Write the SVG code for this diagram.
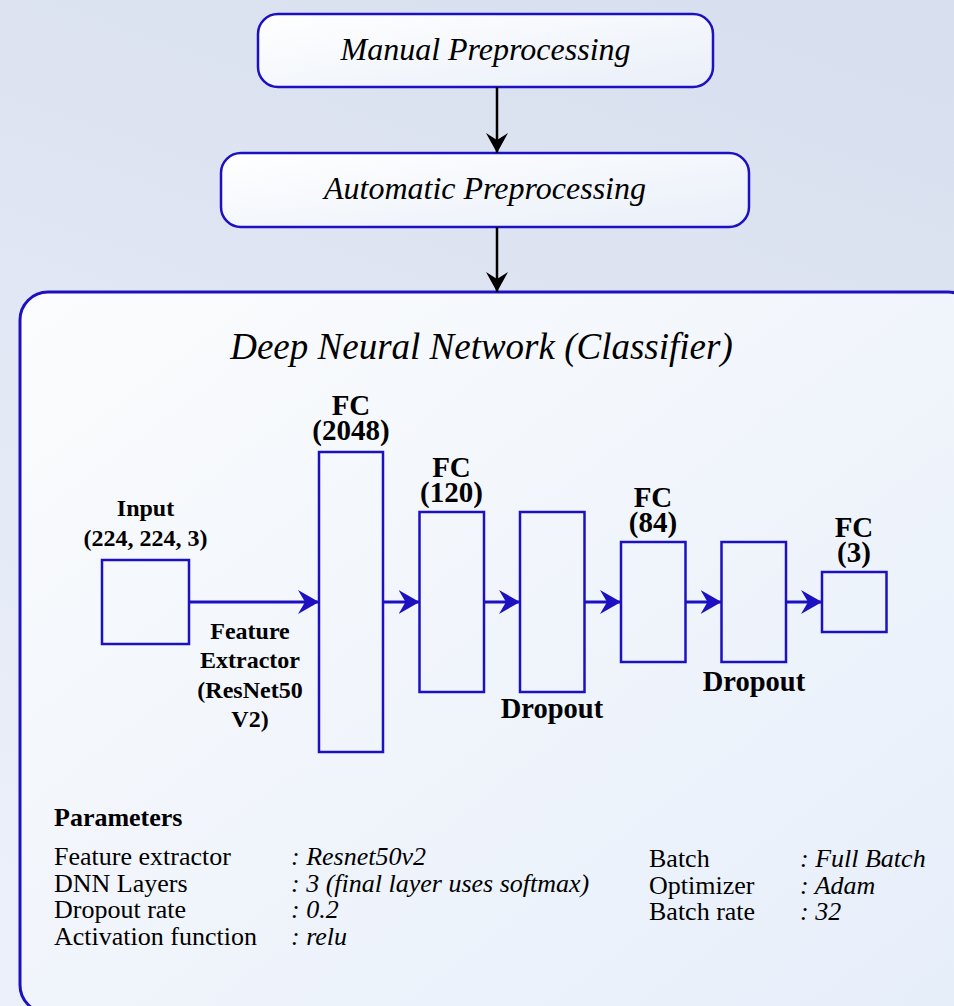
<svg xmlns="http://www.w3.org/2000/svg" width="954" height="1006" viewBox="0 0 954 1006" font-family="'Liberation Serif', Tinos, 'Times New Roman', Times, 'Nimbus Roman', FreeSerif, serif">
  <defs>
    <linearGradient id="bg" gradientUnits="userSpaceOnUse" x1="700" y1="0" x2="350" y2="1006">
      <stop offset="0" stop-color="#d8dfee"/>
      <stop offset="1" stop-color="#ebf0fa"/>
    </linearGradient>
    <linearGradient id="panel" x1="0" y1="0" x2="1" y2="1">
      <stop offset="0" stop-color="#fbfcfd"/>
      <stop offset="1" stop-color="#e6eefa"/>
    </linearGradient>
    <linearGradient id="box" x1="0" y1="0" x2="1" y2="1">
      <stop offset="0" stop-color="#ffffff"/>
      <stop offset="1" stop-color="#e9eff9"/>
    </linearGradient>
    <marker id="head-black" markerUnits="userSpaceOnUse" viewBox="0 0 20 22" markerWidth="20" markerHeight="22" refX="20" refY="11" orient="auto">
      <path d="M0,0 L20,11 L0,22 L7,11 Z" fill="#000"/>
    </marker>
    <marker id="head-blue" markerUnits="userSpaceOnUse" viewBox="0 0 21 24" markerWidth="21" markerHeight="24" refX="21" refY="12" orient="auto">
      <path d="M0,0 L21,12 L0,24 L7,12 Z" fill="#1c10c0"/>
    </marker>
    <style>
      text { font-family: 'Liberation Serif', Tinos, 'Times New Roman', Times, 'Nimbus Roman', FreeSerif, serif; fill: #000; }
      .step { fill: url(#box); stroke: #1c10c0; stroke-width: 2.5; }
      .step-label { font-size: 32px; font-style: italic; text-anchor: middle; }
      .layer { fill: none; stroke: #1c10c0; stroke-width: 2.5; }
      .layer-label { font-size: 29px; font-weight: bold; text-anchor: middle; }
      .small-label { font-size: 24px; font-weight: bold; text-anchor: middle; }
      .drop-label { font-size: 28.5px; font-weight: bold; text-anchor: middle; }
      .flow { stroke: #000; stroke-width: 2.5; fill: none; marker-end: url(#head-black); }
      .link { stroke: #1c10c0; stroke-width: 3; fill: none; marker-end: url(#head-blue); }
      .param { font-size: 26px; }
      .value { font-size: 26px; font-style: italic; }
    </style>
  </defs>

  <!-- page background -->
  <rect x="0" y="0" width="954" height="1006" fill="url(#bg)"/>

  <!-- pipeline steps -->
  <g id="manual-preprocessing">
    <rect class="step" x="258" y="14" width="455" height="73" rx="20"/>
    <text class="step-label" x="485.5" y="60">Manual Preprocessing</text>
  </g>
  <g id="automatic-preprocessing">
    <rect class="step" x="221" y="153" width="528" height="74" rx="20"/>
    <text class="step-label" x="485" y="199">Automatic Preprocessing</text>
  </g>

  <!-- classifier panel -->
  <g id="classifier">
    <rect x="20" y="292" width="956" height="721" rx="28" fill="url(#panel)" stroke="#1c10c0" stroke-width="3"/>
    <text x="481.5" y="359" font-size="37" font-style="italic" text-anchor="middle">Deep Neural Network (Classifier)</text>
  </g>

  <g id="input-layer">
    <rect class="layer" x="102" y="560" width="87" height="84"/>
    <text class="small-label" x="145.5" y="516">Input</text>
    <text class="small-label" x="145.5" y="545.5">(224, 224, 3)</text>
  </g>

  <g id="feature-extractor-label">
    <text class="small-label" x="250" y="638.5">Feature</text>
    <text class="small-label" x="250" y="668">Extractor</text>
    <text class="small-label" x="250" y="697.5">(ResNet50</text>
    <text class="small-label" x="250" y="727">V2)</text>
  </g>

  <g id="fc-2048">
    <rect class="layer" x="319" y="452" width="64" height="300"/>
    <text class="layer-label" x="351" y="415">FC</text>
    <text class="layer-label" x="351" y="440">(2048)</text>
  </g>

  <g id="fc-120">
    <rect class="layer" x="419.5" y="512" width="64.5" height="180"/>
    <text class="layer-label" x="451.5" y="477">FC</text>
    <text class="layer-label" x="451.5" y="502">(120)</text>
  </g>

  <g id="dropout-1">
    <rect class="layer" x="520" y="512" width="64.5" height="180"/>
    <text class="drop-label" x="552" y="718">Dropout</text>
  </g>

  <g id="fc-84">
    <rect class="layer" x="621" y="542" width="64.5" height="120"/>
    <text class="layer-label" x="653" y="507">FC</text>
    <text class="layer-label" x="653" y="532">(84)</text>
  </g>

  <g id="dropout-2">
    <rect class="layer" x="721.5" y="542" width="64.5" height="120"/>
    <text class="drop-label" x="754" y="691">Dropout</text>
  </g>

  <g id="fc-3">
    <rect class="layer" x="822" y="572" width="64.5" height="60"/>
    <text class="layer-label" x="854" y="537">FC</text>
    <text class="layer-label" x="854" y="562">(3)</text>
  </g>

  <!-- connectors -->
  <g id="connectors">
    <line class="flow" x1="497" y1="87" x2="497" y2="153"/>
    <line class="flow" x1="497" y1="227" x2="497" y2="292"/>
    <line class="link" x1="189" y1="602" x2="319" y2="602"/>
    <line class="link" x1="383" y1="602" x2="419.5" y2="602"/>
    <line class="link" x1="484" y1="602" x2="520" y2="602"/>
    <line class="link" x1="584.5" y1="602" x2="621" y2="602"/>
    <line class="link" x1="685.5" y1="602" x2="721.5" y2="602"/>
    <line class="link" x1="786" y1="602" x2="822" y2="602"/>
  </g>

  <!-- training parameters -->
  <g id="parameters">
    <text x="54" y="826" font-size="26" font-weight="bold">Parameters</text>
    <text class="param" x="54" y="865">Feature extractor</text>
    <text class="param" x="54" y="891.7">DNN Layers</text>
    <text class="param" x="54" y="918.3">Dropout rate</text>
    <text class="param" x="54" y="945">Activation function</text>
    <text class="value" x="291" y="865">: Resnet50v2</text>
    <text class="value" x="291" y="891.7">: 3 (final layer uses softmax)</text>
    <text class="value" x="291" y="918.3">: 0.2</text>
    <text class="value" x="291" y="945">: relu</text>
    <text class="param" x="649" y="867.3">Batch</text>
    <text class="param" x="649" y="893.5">Optimizer</text>
    <text class="param" x="649" y="920">Batch rate</text>
    <text class="value" x="800" y="867.3">: Full Batch</text>
    <text class="value" x="800" y="893.5">: Adam</text>
    <text class="value" x="800" y="920">: 32</text>
  </g>
</svg>
